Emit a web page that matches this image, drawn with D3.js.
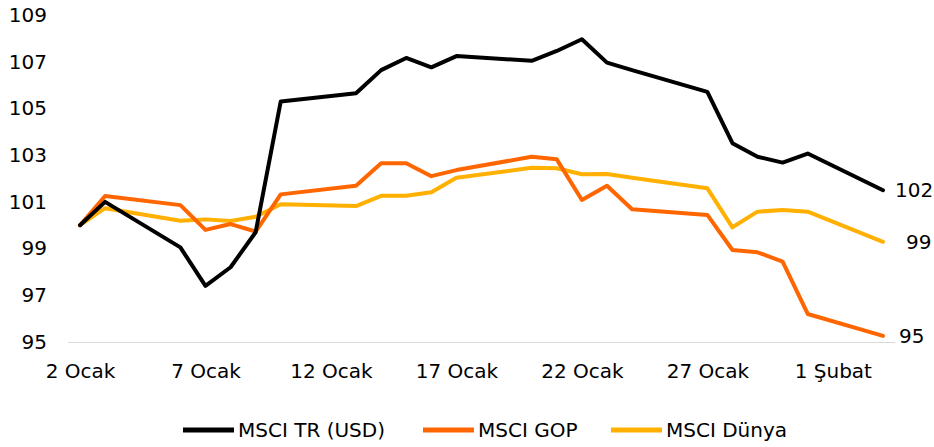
<!DOCTYPE html>
<html>
<head>
<meta charset="utf-8">
<script src="https://cdn.jsdelivr.net/npm/d3@7"></script>
<style>
  body { margin: 0; background: #fff; }
  text { font-family: "DejaVu Sans", sans-serif; font-size: 20px; fill: #000; }
</style>
</head>
<body>
<svg width="934" height="447"></svg>
<script>
var dates = ["2025-01-02","2025-01-03","2025-01-06","2025-01-07","2025-01-08","2025-01-09","2025-01-10",
  "2025-01-13","2025-01-14","2025-01-15","2025-01-16","2025-01-17","2025-01-20","2025-01-21",
  "2025-01-22","2025-01-23","2025-01-24","2025-01-27","2025-01-28","2025-01-29","2025-01-30",
  "2025-01-31","2025-02-03"];

var msciTR = [100, 101.0, 99.05, 97.4, 98.2, 99.7, 105.3, 105.65, 106.64, 107.16, 106.76, 107.24,
  107.04, 107.46, 107.96, 106.96, 106.64, 105.71, 103.51, 102.93, 102.68, 103.07, 101.5];
var msciGOP = [100, 101.25, 100.86, 99.8, 100.05, 99.73, 101.32, 101.69, 102.65, 102.65, 102.1, 102.36,
  102.93, 102.82, 101.08, 101.69, 100.68, 100.44, 98.94, 98.84, 98.44, 96.2, 95.26];
var msciDunya = [100, 100.73, 100.19, 100.25, 100.18, 100.36, 100.9, 100.82, 101.26, 101.26, 101.41, 102.03,
  102.46, 102.44, 102.18, 102.19, 102.03, 101.58, 99.91, 100.58, 100.65, 100.58, 99.29];

var seriesNames = ["MSCI TR (USD)", "MSCI GOP", "MSCI Dünya"];
var endLabels = ["102", "95", "99"];
var xTicks = ["2025-01-02","2025-01-07","2025-01-12","2025-01-17","2025-01-22","2025-01-27","2025-02-01"];
var yTicks = [95, 97, 99, 101, 103, 105, 107, 109];

var colors = ["#000000", "#FF6600", "#FFB000"];
var labelDx = [12, 16, 23];

var svg = d3.select("svg");
var parse = d3.timeParse("%Y-%m-%d");
var months = ["Ocak", "Şubat"];

var x = d3.scaleTime()
    .domain([parse(dates[0]), parse(dates[dates.length - 1])])
    .range([80, 883]);
var y = d3.scaleLinear().domain([95, 109]).range([342, 15]);

// baseline
svg.append("line")
    .attr("x1", 68).attr("x2", 895)
    .attr("y1", y(95) + 0.5).attr("y2", y(95) + 0.5)
    .attr("stroke", "#d9d9d9").attr("stroke-width", 1);

// y axis
var yAxis = svg.append("g")
    .attr("transform", "translate(47,0)")
    .call(d3.axisLeft(y).tickValues(yTicks).tickSize(0).tickPadding(0));
yAxis.select(".domain").remove();
yAxis.selectAll("text").style("font-size", "20px").style("font-family", "DejaVu Sans");

// x axis
var xAxis = svg.append("g")
    .attr("transform", "translate(0," + 364 + ")")
    .call(d3.axisBottom(x)
      .tickValues(xTicks.map(parse))
      .tickSize(0).tickPadding(0)
      .tickFormat(function(d) { return d.getDate() + " " + months[d.getMonth()]; }));
xAxis.select(".domain").remove();
xAxis.selectAll("text").style("font-size", "20px").style("font-family", "DejaVu Sans");

var all = [msciTR, msciGOP, msciDunya];

var line = d3.line()
    .x(function(d, i) { return x(parse(dates[i])); })
    .y(function(d) { return y(d); });

// draw back to front: Dünya, GOP, TR
[2, 1, 0].forEach(function(k) {
  svg.append("path")
      .datum(all[k])
      .attr("fill", "none")
      .attr("stroke", colors[k])
      .attr("stroke-width", 4)
      .attr("stroke-linejoin", "round")
      .attr("stroke-linecap", "round")
      .attr("d", line);
});

// end labels
all.forEach(function(s, k) {
  var last = s.length - 1;
  svg.append("text")
      .attr("x", x(parse(dates[last])) + labelDx[k])
      .attr("y", y(s[last]))
      .attr("dy", "0.35em")
      .text(endLabels[k]);
});

// legend
var legendX = [183, 423, 611];
var legend = svg.append("g").attr("transform", "translate(0,430)");
seriesNames.forEach(function(name, k) {
  legend.append("line")
      .attr("x1", legendX[k]).attr("x2", legendX[k] + 51)
      .attr("y1", 0).attr("y2", 0)
      .attr("stroke", colors[k]).attr("stroke-width", 5);
  legend.append("text")
      .attr("x", legendX[k] + 55)
      .attr("y", 0)
      .attr("dy", "0.35em")
      .text(name);
});
</script>
</body>
</html>
